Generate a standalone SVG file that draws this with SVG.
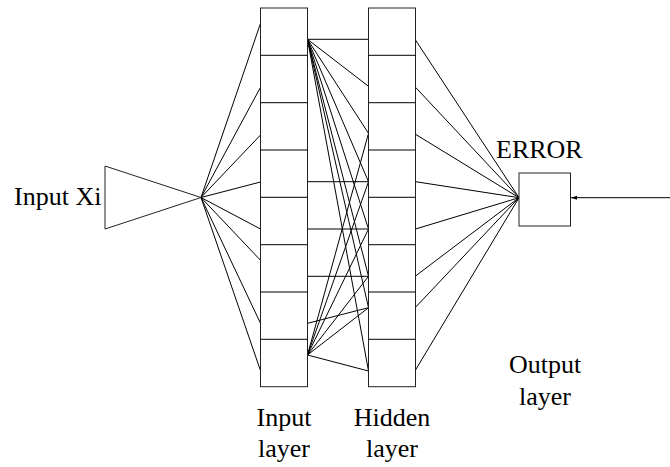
<svg xmlns="http://www.w3.org/2000/svg" width="670" height="467" viewBox="0 0 670 467">
<defs>
<style>
.s{fill:none;stroke:#000;stroke-width:1}
.b{fill:#fff;stroke:#222;stroke-width:1}
.t{font-family:"Liberation Serif","Times New Roman",serif;font-size:26px;fill:#000}
</style>
<marker id="ah" viewBox="0 0 6 6" refX="6" refY="3" markerWidth="6" markerHeight="6" orient="auto" markerUnits="userSpaceOnUse">
<path d="M0,1 L6,3 L0,5 z" fill="#000"/>
</marker>
</defs>
<rect width="670" height="467" fill="#fff"/>
<g id="connectors" class="s">
<path d="M201,197.5 L260.5,23.3 M201,197.5 L260.5,87.3 M201,197.5 L260.5,135 M201,197.5 L260.5,182 M201,197.5 L260.5,229 M201,197.5 L260.5,260.3 M201,197.5 L260.5,323.3 M201,197.5 L260.5,370.7"/>
<path d="M307.5,39.3 L368.5,39.3 M307.5,39.3 L368.5,86.3 M307.5,39.3 L368.5,133.3 M307.5,39.3 L368.5,181.7 M307.5,39.3 L368.5,229 M307.5,39.3 L368.5,276.3 M307.5,39.3 L368.5,307.7 M307.5,39.3 L368.5,371"/>
<path d="M307.5,355 L368.5,133.3 M307.5,355 L368.5,181.7 M307.5,355 L368.5,229 M307.5,355 L368.5,276.3 M307.5,355 L368.5,307.7 M307.5,355 L368.5,371"/>
<path d="M307.5,181.7 L368.5,181.7 M307.5,229 L368.5,229 M307.5,276.3 L368.5,276.3 M307.5,323.3 L368.5,307.7"/>
<path d="M415.5,40 L519,197.7 M415.5,87.3 L519,197.7 M415.5,134.3 L519,197.7 M415.5,181.7 L519,197.7 M415.5,229 L519,197.7 M415.5,276 L519,197.7 M415.5,307.3 L519,197.7 M415.5,370 L519,197.7"/>
<line x1="670" y1="197.7" x2="571" y2="197.7" marker-end="url(#ah)"/>
</g>
<g id="input-xi">
<polygon class="b" points="105,166 201,197.5 105,229"/>
<text class="t" x="14" y="205">Input Xi</text>
</g>
<g id="input-layer">
<rect class="b" x="260.5" y="8" width="47" height="378.7"/>
<path class="s" d="M260.5,55.3 H307.5 M260.5,102.7 H307.5 M260.5,150 H307.5 M260.5,197.3 H307.5 M260.5,244.7 H307.5 M260.5,292 H307.5 M260.5,339.3 H307.5"/>
<text class="t" x="284" y="426" text-anchor="middle">Input</text>
<text class="t" x="284" y="457" text-anchor="middle">layer</text>
</g>
<g id="hidden-layer">
<rect class="b" x="368.5" y="8" width="47" height="378.7"/>
<path class="s" d="M368.5,55.3 H415.5 M368.5,102.7 H415.5 M368.5,150 H415.5 M368.5,197.3 H415.5 M368.5,244.7 H415.5 M368.5,292 H415.5 M368.5,339.3 H415.5"/>
<text class="t" x="392" y="426" text-anchor="middle">Hidden</text>
<text class="t" x="392" y="457" text-anchor="middle">layer</text>
</g>
<g id="error">
<rect class="b" x="519" y="173" width="51.5" height="53"/>
<text class="t" x="496" y="158">ERROR</text>
</g>
<g id="output-layer">
<text class="t" x="545" y="373" text-anchor="middle">Output</text>
<text class="t" x="545" y="405" text-anchor="middle">layer</text>
</g>
</svg>
